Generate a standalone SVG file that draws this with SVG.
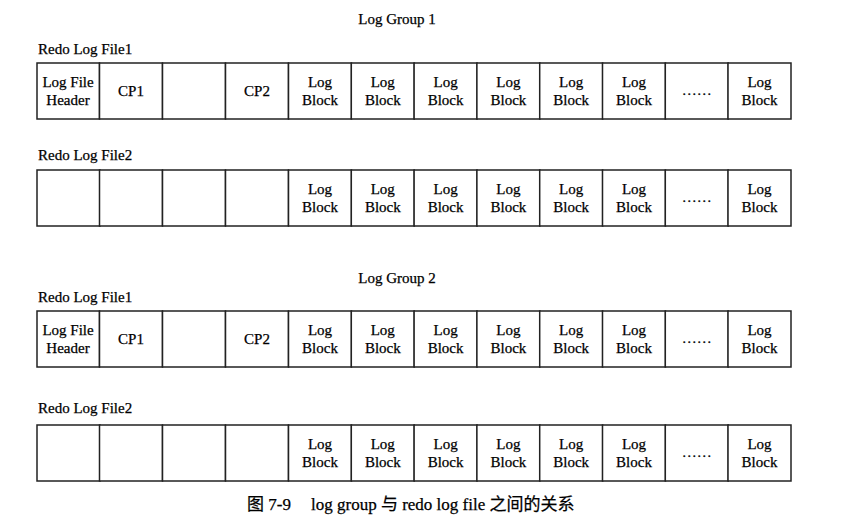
<svg xmlns="http://www.w3.org/2000/svg" width="846" height="524" viewBox="0 0 846 524">
<style>
.t{font-family:"Liberation Serif","Noto Sans CJK SC",serif;font-size:15px;fill:#000;stroke:#000;stroke-width:0.25}
.c{text-anchor:middle}
.cell{fill:#fff;stroke:#222;stroke-width:1.5}
</style>
<rect width="846" height="524" fill="#fff"/>
<text class="t c" x="397" y="24">Log Group 1</text>
<text class="t" x="38" y="54">Redo Log File1</text>
<text class="t" x="38" y="160">Redo Log File2</text>
<text class="t c" x="397" y="283">Log Group 2</text>
<text class="t" x="38" y="302">Redo Log File1</text>
<text class="t" x="38" y="413">Redo Log File2</text>
<defs>
<g id="blk"><rect class="cell" x="0" y="0" width="63" height="56"/><text class="t c" x="31.5" y="24">Log</text><text class="t c" x="31.5" y="42">Block</text></g>
<g id="emp"><rect class="cell" x="0" y="0" width="63" height="56"/></g>
<g id="dots"><rect class="cell" x="0" y="0" width="63" height="56"/><text class="t c" x="31.5" y="32">……</text></g>
</defs>
<g id="g1f1" transform="translate(37,63)">
<rect class="cell" x="0" y="0" width="62.5" height="56"/><text class="t c" x="31" y="24">Log File</text><text class="t c" x="31" y="42">Header</text>
<rect class="cell" x="62.5" y="0" width="63" height="56"/><text class="t c" x="94" y="33">CP1</text>
<use href="#emp" x="125.5"/>
<rect class="cell" x="188.5" y="0" width="63" height="56"/><text class="t c" x="220" y="33">CP2</text>
<use href="#blk" x="251.5"/><use href="#blk" x="314.3"/><use href="#blk" x="377.1"/><use href="#blk" x="439.9"/><use href="#blk" x="502.7"/><use href="#blk" x="565.5"/><use href="#dots" x="628.3"/><use href="#blk" x="691"/>
</g>
<g id="g1f2" transform="translate(37,170)">
<use href="#emp" x="0"/><use href="#emp" x="62.5"/><use href="#emp" x="125.5"/><use href="#emp" x="188.5"/>
<use href="#blk" x="251.5"/><use href="#blk" x="314.3"/><use href="#blk" x="377.1"/><use href="#blk" x="439.9"/><use href="#blk" x="502.7"/><use href="#blk" x="565.5"/><use href="#dots" x="628.3"/><use href="#blk" x="691"/>
</g>
<g id="g2f1" transform="translate(37,311)">
<rect class="cell" x="0" y="0" width="62.5" height="56"/><text class="t c" x="31" y="24">Log File</text><text class="t c" x="31" y="42">Header</text>
<rect class="cell" x="62.5" y="0" width="63" height="56"/><text class="t c" x="94" y="33">CP1</text>
<use href="#emp" x="125.5"/>
<rect class="cell" x="188.5" y="0" width="63" height="56"/><text class="t c" x="220" y="33">CP2</text>
<use href="#blk" x="251.5"/><use href="#blk" x="314.3"/><use href="#blk" x="377.1"/><use href="#blk" x="439.9"/><use href="#blk" x="502.7"/><use href="#blk" x="565.5"/><use href="#dots" x="628.3"/><use href="#blk" x="691"/>
</g>
<g id="g2f2" transform="translate(37,425)">
<use href="#emp" x="0"/><use href="#emp" x="62.5"/><use href="#emp" x="125.5"/><use href="#emp" x="188.5"/>
<use href="#blk" x="251.5"/><use href="#blk" x="314.3"/><use href="#blk" x="377.1"/><use href="#blk" x="439.9"/><use href="#blk" x="502.7"/><use href="#blk" x="565.5"/><use href="#dots" x="628.3"/><use href="#blk" x="691"/>
</g>
<g id="connectors"/>
<text class="t" x="247" y="510" style="font-size:17px">图 7-9<tspan x="311">log group 与 redo log file 之间的关系</tspan></text>
</svg>
